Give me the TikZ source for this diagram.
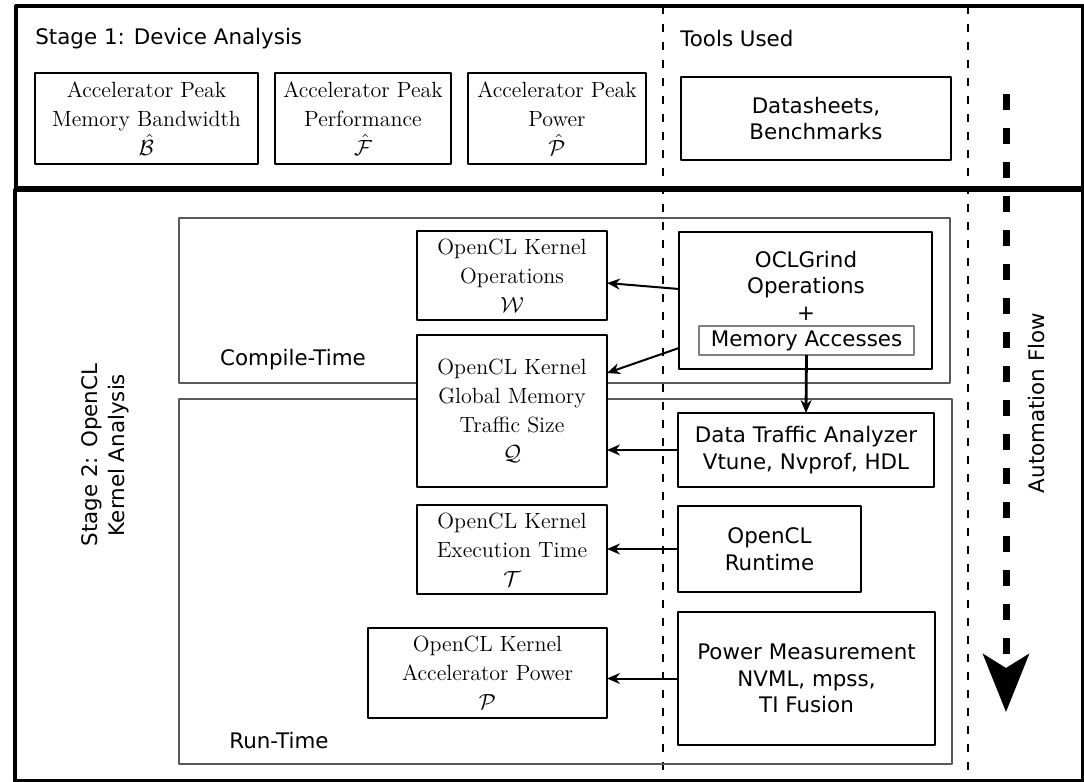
\documentclass[tikz,border=0pt]{standalone}
\usepackage{fontspec}
\newfontfamily\dejavu{DejaVu Sans}
\usetikzlibrary{arrows.meta}
\begin{document}
\begin{tikzpicture}[x=0.5pt,y=-0.5pt,line join=round,>={Stealth[length=6.5pt,width=5.5pt]},
  sf/.style={font=\dejavu\fontsize{10.7}{13.3}\selectfont,inner sep=0pt},
  rm/.style={font=\fontsize{11}{13}\selectfont,inner sep=0pt},
  box/.style 2 args={draw,line width=1.1pt,fill=white,align=center,inner sep=0pt,outer sep=0pt,minimum width={0.5pt*#1},minimum height={0.5pt*#2}},
  region/.style={draw=black!65,line width=1.3pt},
  sep/.style={line width=0.7pt,dash pattern=on 4pt off 5pt},
  flow/.style={->,line width=1pt}]
\def\lsep{663} \def\rsep{968}
\useasboundingbox (0,0) rectangle (1084,782);
% stage frames
\draw[line width=2pt] (16,6) rectangle (1083,188);
\draw[line width=2pt] (15,190) rectangle (1083,781);
\foreach \xs in {\lsep,\rsep} \draw[sep] (\xs,6)--(\xs,782);
\draw[region] (179,218) rectangle (950,383);
\draw[region] (179,399) rectangle (952,764);
% headings
\node[sf,anchor=west] (stageone) at (35,39) {Stage 1: Device Analysis};
\node[sf,anchor=west] (tools) at (680,39) {Tools Used};
\node[sf,rotate=90,align=center] (stagetwo) at (105,455) {Stage 2: OpenCL\\Kernel Analysis};
\node[sf,rotate=90] (autoflow) at (1037,403) {Automation Flow};
\node[sf] (compile) at (293,360) {Compile-Time};
\node[sf] (runtime) at (279,741) {Run-Time};
% stage 1
\node[box={223}{91},rm] (peakbw) at (146.5,118.5) {Accelerator Peak\\[0.3ex]Memory Bandwidth\\[0.3ex]$\hat{\mathcal{B}}$};
\node[box={176}{91},rm] (peakperf) at (363,118.5) {Accelerator Peak\\[0.3ex]Performance\\[0.3ex]$\hat{\mathcal{F}}$};
\node[box={178}{91},rm] (peakpow) at (557,118.5) {Accelerator Peak\\[0.3ex]Power\\[0.3ex]$\hat{\mathcal{P}}$};
\node[box={270}{83},sf] (sheets) at (816,118.5) {Datasheets,\\Benchmarks};
% stage 2
\node[box={190}{89},rm] (kernops) at (512,275.5) {OpenCL Kernel\\[0.3ex]Operations\\[0.3ex]$\mathcal{W}$};
\node[box={190}{152},rm] (traffic) at (512,411) {OpenCL Kernel\\[0.3ex]Global Memory\\[0.3ex]Traffic Size\\[0.3ex]$\mathcal{Q}$};
\node[box={190}{89},rm] (exectime) at (512,549.5) {OpenCL Kernel\\[0.3ex]Execution Time\\[0.3ex]$\mathcal{T}$};
\node[box={239}{90},rm] (kpower) at (487.5,673) {OpenCL Kernel\\[0.3ex]Accelerator Power\\[0.3ex]$\mathcal{P}$};
\node[box={253}{137}] (oclgrind) at (805.5,300.5) {};
\node[sf,align=center] (ocltext) at (806,285.5) {OCLGrind\\Operations\\+};
\node[box={215}{29},sf,draw=black!50,line width=1pt] (memacc) at (806.5,340.5) {Memory Accesses};
\node[box={256}{74},sf] (analyzer) at (806,450) {Data Traffic Analyzer\\Vtune, Nvprof, HDL};
\node[box={183}{86},sf] (clrun) at (769.5,549) {OpenCL\\Runtime};
\node[box={257}{133},sf] (powermeas) at (806.5,678.5) {Power Measurement\\NVML, mpss,\\TI Fusion};
% connectors
\draw[flow] ([yshift=5.75pt]oclgrind.west) -- ([yshift=-3.75pt]kernops.east);
\draw[flow] ([yshift=-23.75pt]oclgrind.west) -- ([yshift=19pt]traffic.east);
\draw[flow,line width=1.4pt] (memacc.south) -- (analyzer.north);
\draw[flow] (analyzer.west) -- (analyzer.west -| traffic.east);
\draw[flow] (clrun.west) -- (clrun.west -| exectime.east);
\draw[flow] (powermeas.west) -- (powermeas.west -| kpower.east);
% automation flow
\coordinate (flowtop) at (1006,94);
\coordinate (flowtip) at (1006,712);
\draw[line width=3.5pt,dash pattern=on 8pt off 9pt,-{Stealth[length=29pt,width=23pt,inset=7pt]}] (flowtop) -- (flowtip);
\end{tikzpicture}
\end{document}
